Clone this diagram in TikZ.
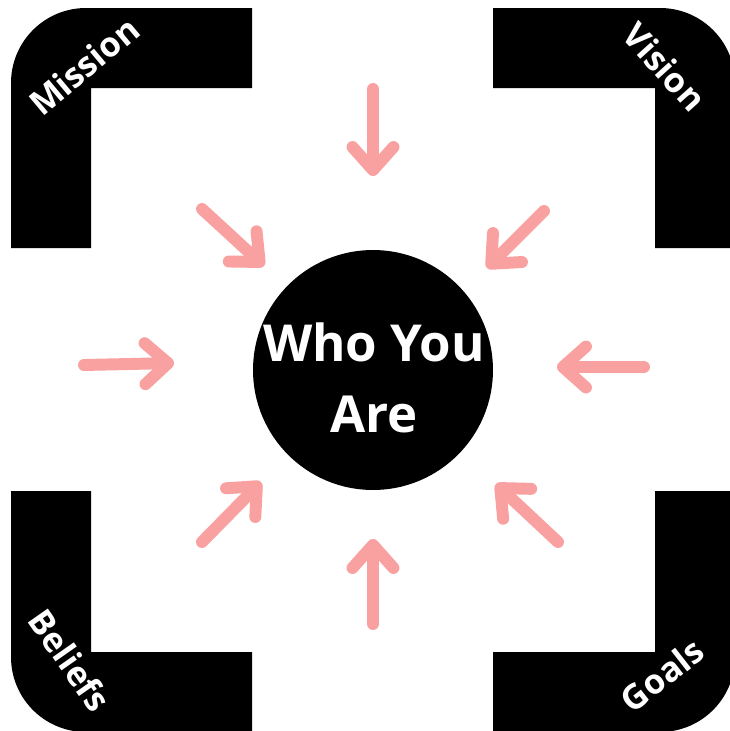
\documentclass[tikz,border=0pt]{standalone}
\usepackage{fontspec}
\setmainfont{Open Sans}
\usetikzlibrary{arrows.meta}
\definecolor{arrowpink}{RGB}{249,160,160}

\begin{document}
\begin{tikzpicture}[
    x=0.02cm, y=-0.02cm,
    corner/.style={fill=black},
    label/.style={text=white, font=\fontsize{19.5pt}{24pt}\selectfont\bfseries},
    core/.style={circle, fill=black, inner sep=0pt, minimum size=4.8cm},
    coretext/.style={text=white, align=center, font=\fontsize{29pt}{40.5pt}\selectfont\bfseries},
    arrow/.style={-{Straight Barb[round, length=0.46cm, width=0.82cm]}, line width=6.8pt, line cap=round, arrowpink}
]
\useasboundingbox (0,0) rectangle (730,731);
\clip (0,0) rectangle (730,731);

% Corner brackets
\fill[corner] (11,248) -- (11,83) arc[start angle=180, end angle=270, radius=75] -- (252,8) -- (252,88) -- (91,88) -- (91,248) -- cycle;
\fill[corner] (493,8) -- (660,8) arc[start angle=270, end angle=360, radius=75] -- (735,248) -- (655,248) -- (655,88) -- (493,88) -- cycle;
\fill[corner] (11,491) -- (11,657) arc[start angle=180, end angle=90, radius=75] -- (252,732) -- (252,652) -- (91,652) -- (91,491) -- cycle;
\fill[corner] (493,652) -- (655,652) -- (655,491) -- (735,491) -- (735,657) arc[start angle=0, end angle=90, radius=75] -- (493,732) -- cycle;

% Corner labels
\node[label, rotate=40] (mission) at (84,66) {Mission};
\node[label, rotate=-48] (vision) at (665,67) {Vision};
\node[label, rotate=-55] (beliefs) at (70,660) {Beliefs};
\node[label, rotate=38] (goals) at (662,675) {Goals};

% Centre
\node[core] (who) at (373,370) {};
\node[coretext] (whotext) at (374,378) {Who You\\Are};

% Arrow ends (tail, head)
\coordinate (nT) at (373,89);  \coordinate (nH) at (373,176);
\coordinate (nwT) at (202,209); \coordinate (nwH) at (264,266);
\coordinate (neT) at (544,211); \coordinate (neH) at (487,268);
\coordinate (wT) at (84,365);  \coordinate (wH) at (174,363);
\coordinate (eT) at (644,367); \coordinate (eH) at (557,367);
\coordinate (sT) at (373,624); \coordinate (sH) at (373,539);
\coordinate (swT) at (202,542); \coordinate (swH) at (261,482);
\coordinate (seT) at (558,542); \coordinate (seH) at (496,484);

% Arrows pointing in
\foreach \a in {n,nw,ne,w,e,s,sw,se}
    \draw[arrow] (\a T) -- (\a H);
\end{tikzpicture}
\end{document}
